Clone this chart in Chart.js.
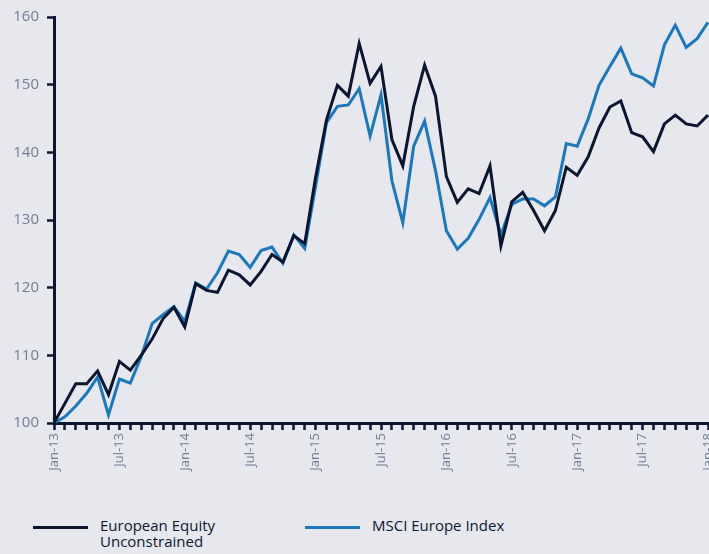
<!DOCTYPE html>
<html>
<head>
<meta charset="utf-8">
<script src="https://cdn.jsdelivr.net/npm/chart.js@4"></script>
<style>
  html, body { margin: 0; padding: 0; background: #e6e8ee; overflow: hidden; }
  #wrap { position: relative; width: 709px; height: 554px; }
  #box { position: absolute; left: 0; top: 0; width: 709px; height: 480px; }
  .legend { position: absolute; top: 517px; font-family: 'Open Sans', sans-serif; font-size: 15px; line-height: 16px; color: #0b1530; }
  .legend .swatch { position: absolute; top: 9px; width: 55px; height: 3px; }
  .legend .txt { position: absolute; white-space: nowrap; }
</style>
</head>
<body>
<div id="wrap">
  <div id="box"><canvas id="chart"></canvas></div>
  <div class="legend" id="leg1" style="left:33px">
    <div class="swatch" style="left:0;background:#0b1530"></div>
    <div class="txt" style="left:67px">European Equity<br>Unconstrained</div>
  </div>
  <div class="legend" id="leg2" style="left:305px">
    <div class="swatch" style="left:0;background:#1a78bd"></div>
    <div class="txt" style="left:67px">MSCI Europe Index</div>
  </div>
</div>
<script>
const monthNames = ['Jan','Feb','Mar','Apr','May','Jun','Jul','Aug','Sep','Oct','Nov','Dec'];
const years = ['13','14','15','16','17','18'];

const equity = [100, 102.9, 105.8, 105.8, 107.7, 104.2, 109.1, 107.8, 110.0, 112.4, 115.4, 117.1,
  114.2, 120.6, 119.6, 119.3, 122.6, 121.9, 120.4, 122.4, 124.9, 123.8, 127.7, 126.5,
  136.3, 144.8, 149.9, 148.3, 156.1, 150.2, 152.7, 141.9, 138.0, 146.8, 152.9, 148.3,
  136.4, 132.6, 134.6, 133.9, 138.0, 126.2, 132.7, 134.1, 131.4, 128.4, 131.4, 137.8,
  136.6, 139.3, 143.6, 146.7, 147.6, 142.9, 142.3, 140.1, 144.2, 145.5, 144.2, 143.9, 145.5];

const msci = [100, 100.9, 102.5, 104.4, 106.8, 101.2, 106.5, 105.9, 109.8, 114.7, 116.0, 117.2,
  115.0, 120.7, 119.8, 122.2, 125.4, 124.9, 123.0, 125.5, 126.0, 123.6, 127.8, 125.8,
  135.0, 144.4, 146.8, 147.0, 149.4, 142.4, 148.5, 135.8, 129.6, 140.9, 144.6, 137.3,
  128.4, 125.7, 127.3, 130.1, 133.3, 127.8, 132.3, 133.1, 133.1, 132.1, 133.4, 141.3,
  140.9, 144.9, 149.9, 152.7, 155.4, 151.6, 151.0, 149.8, 155.9, 158.8, 155.5, 156.8, 159.2];

// monthly labels Jan-13 .. Jan-18
const labels = [];
years.forEach(y => monthNames.forEach(m => labels.push(m + '-' + y)));
labels.length = equity.length;

const axisColor = '#0b1530';
const tickText = '#737c95';

new Chart(document.getElementById('chart'), {
  type: 'line',
  data: {
    labels: labels,
    datasets: [
      { label: 'European Equity Unconstrained', data: equity, borderColor: '#0b1530', borderWidth: 3, pointRadius: 0, tension: 0 },
      { label: 'MSCI Europe Index', data: msci, borderColor: '#1a78bd', borderWidth: 3, pointRadius: 0, tension: 0 }
    ]
  },
  options: {
    responsive: true,
    maintainAspectRatio: false,
    animation: false,
    layout: { padding: { top: 16, right: 1, left: 0, bottom: 0 } },
    plugins: { legend: { display: false }, tooltip: { enabled: false } },
    scales: {
      x: {
        afterFit: s => { s.height = 57; s.paddingLeft = 0; s.paddingRight = 0; },
        border: { display: true, color: axisColor, width: 3 },
        grid: { drawOnChartArea: false, drawTicks: true, tickLength: 7, tickWidth: 2.5, tickColor: axisColor },
        ticks: {
          autoSkip: false, minRotation: 90, maxRotation: 90, padding: 3,
          color: tickText, font: { family: 'Open Sans', size: 13 },
          callback: function (v, i) { return i % 6 === 0 ? labels[i] : ''; }
        }
      },
      y: {
        min: 100, max: 160,
        afterFit: s => { s.width = 54; },
        border: { display: true, color: axisColor, width: 3 },
        grid: { drawOnChartArea: false, drawTicks: true, tickLength: 7, tickWidth: 2.5, tickColor: axisColor },
        ticks: { stepSize: 10, padding: 8, color: tickText, font: { family: 'Open Sans', size: 15 } }
      }
    }
  }
});
</script>
</body>
</html>
